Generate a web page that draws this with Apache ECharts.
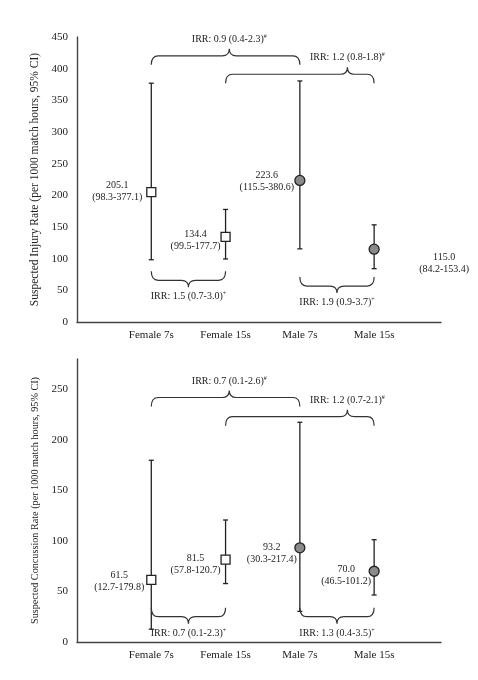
<!DOCTYPE html>
<html>
<head>
<meta charset="utf-8">
<script src="https://cdn.jsdelivr.net/npm/echarts@6/dist/echarts.min.js"></script>
<style>
  html, body { margin: 0; padding: 0; background: #fff; }
  #chart { width: 478px; height: 680px; }
</style>
</head>
<body>
<div id="chart"></div>
<script>
const categories = ['Female 7s', 'Female 15s', 'Male 7s', 'Male 15s'];

// suspected injury rate per 1000 match hours with 95% CI
const injuryRate = [205.1, 134.4, 223.6, 115.0];
const injuryLow = [98.3, 99.5, 115.5, 84.2];
const injuryHigh = [377.1, 177.7, 380.6, 153.4];

// suspected concussion rate per 1000 match hours with 95% CI
const concRate = [61.5, 81.5, 93.2, 70.0];
const concLow = [12.7, 57.8, 30.3, 46.5];
const concHigh = [179.8, 120.7, 217.4, 101.2];

// incidence rate ratios shown on the braces
const bracePairs = [[1, 3], [2, 4], [1, 2], [3, 4]];
const braceMarks = ['#', '#', '+', '+'];
const injuryIRR = [0.9, 1.2, 1.5, 1.9];
const injuryIRRLow = [0.4, 0.8, 0.7, 0.9];
const injuryIRRHigh = [2.3, 1.8, 3.0, 3.7];
const concIRR = [0.7, 1.2, 0.7, 1.3];
const concIRRLow = [0.1, 0.7, 0.1, 0.4];
const concIRRHigh = [2.6, 2.1, 2.3, 3.5];

// where the braces sit (value at the brace ends, x of the brace tip)
const injuryBraceY = [406, 377, 80, 71];
const concBraceY = [233, 214, 34, 34];
const braceSide = [1, 1, -1, -1];
const braceTip = [2.05, 3.64, 1.5, 3.5];

// label shifts in px from each marker
const injuryLabelShift = [[-34, -1], [-30, 3], [-33, 1], [70, 14]];
const concLabelShift = [[-32, 2], [-30, 5], [-28, 6], [-28, 4]];

const FONT = '"Liberation Serif", "DejaVu Serif", serif';
const TXT = '#222';

const chart = echarts.init(document.getElementById('chart'), null, { renderer: 'canvas' });

function f1(v) { return v.toFixed(1); }

function xAxis(idx) {
  return {
    type: 'value', gridIndex: idx, min: 0, max: 4.9, interval: 1,
    axisLine: { show: true, lineStyle: { color: '#444', width: 1.4 } },
    axisTick: { show: false },
    splitLine: { show: false },
    axisLabel: {
      color: TXT, fontFamily: FONT, fontSize: 11, margin: 8,
      showMinLabel: false, showMaxLabel: false,
      formatter: v => categories[Math.round(v) - 1] || ''
    }
  };
}

function yAxis(idx, max, name, nameSize) {
  return {
    type: 'value', gridIndex: idx, min: 0, max: max, interval: 50,
    name: name, nameLocation: 'middle', nameGap: 25,
    nameTextStyle: { color: TXT, fontFamily: FONT, fontSize: nameSize },
    axisLine: { show: true, lineStyle: { color: '#444', width: 1.4 } },
    axisTick: { show: false },
    splitLine: { show: false },
    axisLabel: {
      color: TXT, fontFamily: FONT, fontSize: 11, margin: 9,
      showMaxLabel: max % 50 === 0
    }
  };
}

function errorSeries(idx, low, high) {
  return {
    type: 'custom', xAxisIndex: idx, yAxisIndex: idx, z: 2,
    data: low.map((l, i) => [i + 1, l, high[i]]),
    renderItem: (params, api) => {
      const x = api.value(0);
      const lo = api.coord([x, api.value(1)]);
      const hi = api.coord([x, api.value(2)]);
      const c = 2.5;
      const st = { stroke: '#222', lineWidth: 1.3 };
      return {
        type: 'group', children: [
          { type: 'line', shape: { x1: lo[0], y1: lo[1], x2: hi[0], y2: hi[1] }, style: st },
          { type: 'line', shape: { x1: lo[0] - c, y1: lo[1], x2: lo[0] + c, y2: lo[1] }, style: st },
          { type: 'line', shape: { x1: hi[0] - c, y1: hi[1], x2: hi[0] + c, y2: hi[1] }, style: st }
        ]
      };
    }
  };
}

function pointSeries(idx, rate, low, high, shift) {
  return {
    type: 'scatter', xAxisIndex: idx, yAxisIndex: idx, z: 5,
    data: rate.map((r, i) => {
      const male = i >= 2;
      return {
        value: [i + 1, r],
        symbol: male ? 'circle' : 'rect',
        symbolSize: male ? 10 : 9,
        itemStyle: {
          color: male ? '#8a8a8a' : '#fff',
          borderColor: '#222', borderWidth: 1.3, opacity: 1
        },
        label: {
          show: true,
          position: ['50%', '50%'],
          align: 'center', verticalAlign: 'middle',
          offset: shift[i],
          formatter: f1(r) + '\n(' + f1(low[i]) + '-' + f1(high[i]) + ')',
          color: TXT, fontFamily: FONT, fontSize: 10, lineHeight: 12
        }
      };
    }),
    emphasis: { disabled: true }
  };
}

function braceSeries(idx, braceY, irr, irrLow, irrHigh) {
  return {
    type: 'custom', xAxisIndex: idx, yAxisIndex: idx, z: 3,
    data: bracePairs.map((p, i) => [p[0], p[1], braceY[i], braceTip[i], braceSide[i]]),
    renderItem: (params, api) => {
      const i = params.dataIndex;
      const p1 = api.coord([api.value(0), api.value(2)]);
      const p2 = api.coord([api.value(1), api.value(2)]);
      const tx = api.coord([api.value(3), api.value(2)])[0];
      const s = api.value(4);
      const yE = p1[1];
      const h = yE - s * 9;
      const tip = h - s * 7;
      const r = 7;
      const path = 'M' + p1[0] + ',' + yE +
        ' Q' + p1[0] + ',' + h + ' ' + (p1[0] + r) + ',' + h +
        ' L' + (tx - r) + ',' + h +
        ' Q' + tx + ',' + h + ' ' + tx + ',' + tip +
        ' Q' + tx + ',' + h + ' ' + (tx + r) + ',' + h +
        ' L' + (p2[0] - r) + ',' + h +
        ' Q' + p2[0] + ',' + h + ' ' + p2[0] + ',' + yE;
      const txt = '{n|IRR: ' + f1(irr[i]) + ' (' + f1(irrLow[i]) + '-' + f1(irrHigh[i]) + ')}{s|' + braceMarks[i] + '}';
      return {
        type: 'group', children: [
          { type: 'path', shape: { pathData: path }, style: { stroke: '#333', lineWidth: 1.2, fill: null } },
          {
            type: 'text', x: tx, y: tip - s * 9.5,
            style: {
              text: txt, align: 'center', verticalAlign: 'middle',
              fill: TXT, fontFamily: FONT, fontSize: 10,
              rich: {
                n: { fontFamily: FONT, fontSize: 10, fill: TXT, lineHeight: 12 },
                s: { fontFamily: FONT, fontSize: 6, fill: TXT, verticalAlign: 'top', lineHeight: 12 }
              }
            }
          }
        ]
      };
    }
  };
}

const option = {
  animation: false,
  backgroundColor: '#fff',
  grid: [
    { left: 77, right: 37, top: 37, height: 285 },
    { left: 77, right: 37, top: 359, height: 283 }
  ],
  xAxis: [xAxis(0), xAxis(1)],
  yAxis: [
    yAxis(0, 450, 'Suspected Injury Rate (per 1000 match hours, 95% CI)', 11.5),
    yAxis(1, 280, 'Suspected Concussion Rate (per 1000 match hours, 95% CI)', 10.2)
  ],
  series: [
    errorSeries(0, injuryLow, injuryHigh),
    braceSeries(0, injuryBraceY, injuryIRR, injuryIRRLow, injuryIRRHigh),
    pointSeries(0, injuryRate, injuryLow, injuryHigh, injuryLabelShift),
    errorSeries(1, concLow, concHigh),
    braceSeries(1, concBraceY, concIRR, concIRRLow, concIRRHigh),
    pointSeries(1, concRate, concLow, concHigh, concLabelShift)
  ]
};

chart.setOption(option);
</script>
</body>
</html>
